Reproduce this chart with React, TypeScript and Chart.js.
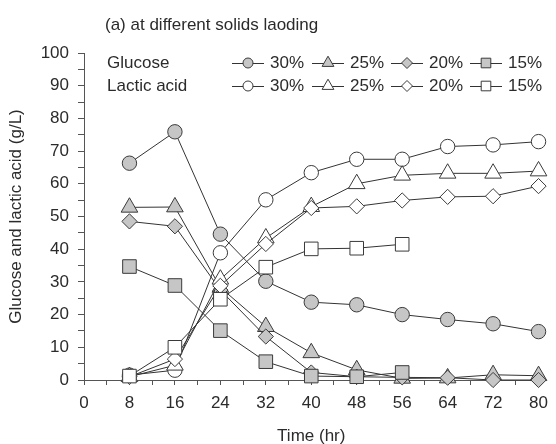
import React, { useEffect, useRef } from "react";
import { Chart, registerables } from "chart.js";

Chart.register(...registerables);

const timeHours = [8, 16, 24, 32, 40, 48, 56, 64, 72, 80];
const xTickLabels = [0, 8, 16, 24, 32, 40, 48, 56, 64, 72, 80];
const yTickLabels = [0, 10, 20, 30, 40, 50, 60, 70, 80, 90, 100];

const glucose30 = [66.3, 75.9, 44.6, 30.2, 23.8, 23.0, 20.0, 18.5, 17.2, 14.8];
const glucose25 = [52.8, 52.9, 28.3, 16.3, 8.3, 3.1, 0.5, 0.6, 1.6, 1.3];
const glucose20 = [48.5, 47.0, 27.5, 13.3, 2.3, 1.0, 0.8, 0.7, 0.0, 0.0];
const glucose15 = [34.7, 28.9, 15.1, 5.6, 1.2, 1.0, 2.3];

const lactic30 = [1.5, 3.0, 38.9, 55.1, 63.4, 67.5, 67.5, 71.4, 71.9, 72.9];
const lactic25 = [1.0, 4.5, 30.8, 43.4, 53.0, 60.0, 62.6, 63.2, 63.2, 63.9];
const lactic20 = [1.0, 6.4, 28.8, 41.6, 52.6, 53.1, 54.9, 56.0, 56.2, 59.3];
const lactic15 = [1.2, 10.0, 24.7, 34.5, 40.1, 40.3, 41.5];

const seriesLabels = ["30%", "25%", "20%", "15%"];

const FONT = "'Liberation Sans', Arial, Helvetica, sans-serif";
const TEXT = "#2b2b2b";
const LINE = "#333333";
const GRAY = "#c6c6c6";
const AXIS = "#555555";

const toPoints = (vals: number[]) => vals.map((y, i) => ({ x: timeHours[i], y }));

const styleFor = (style: string) => {
  if (style === "circle") return { pointStyle: "circle", pointRadius: 7.2 };
  if (style === "triangle") return { pointStyle: "triangle", pointRadius: 9.6 };
  if (style === "rectRot") return { pointStyle: "rectRot", pointRadius: 7.6 };
  return { pointStyle: "rect", pointRadius: 9.6 };
};

const makeSet = (label: string, vals: number[], style: string, fill: string, order: number) => ({
  label,
  data: toPoints(vals),
  borderColor: LINE,
  borderWidth: 1,
  backgroundColor: fill,
  pointBackgroundColor: fill,
  pointBorderColor: "#3a3a3a",
  pointBorderWidth: 1,
  ...styleFor(style),
  showLine: true,
  clip: false as const,
  order,
});

function drawMarker(ctx: CanvasRenderingContext2D, style: string, x: number, y: number, fill: string) {
  ctx.save();
  ctx.beginPath();
  if (style === "circle") {
    ctx.arc(x, y, 5, 0, Math.PI * 2);
  } else if (style === "triangle") {
    const r = 6.8;
    ctx.moveTo(x, y - r);
    ctx.lineTo(x + r * 0.866, y + r / 2);
    ctx.lineTo(x - r * 0.866, y + r / 2);
    ctx.closePath();
  } else if (style === "rectRot") {
    const r = 5.5;
    ctx.moveTo(x - r, y);
    ctx.lineTo(x, y - r);
    ctx.lineTo(x + r, y);
    ctx.lineTo(x, y + r);
    ctx.closePath();
  } else {
    ctx.rect(x - 4.8, y - 4.8, 9.6, 9.6);
  }
  ctx.fillStyle = fill;
  ctx.fill();
  ctx.strokeStyle = "#3a3a3a";
  ctx.lineWidth = 1;
  ctx.stroke();
  ctx.restore();
}

const textPlugin = {
  id: "textPlugin",
  afterDraw(chart: any) {
    const ctx: CanvasRenderingContext2D = chart.ctx;
    const area = chart.chartArea;
    ctx.save();
    ctx.fillStyle = TEXT;
    ctx.font = `17px ${FONT}`;
    ctx.textBaseline = "middle";
    ctx.textAlign = "left";
    ctx.fillText("(a) at different solids laoding", 105, 25);

    // legend
    ctx.fillText("Glucose", 107, 63);
    ctx.fillText("Lactic acid", 107, 86);
    const textStarts = [270, 350, 429, 508];
    const styles = ["circle", "triangle", "rectRot", "rect"];
    const rows = [
      { y: 63, fill: GRAY },
      { y: 86, fill: "#ffffff" },
    ];
    rows.forEach((row) => {
      textStarts.forEach((ts, i) => {
        ctx.beginPath();
        ctx.strokeStyle = LINE;
        ctx.lineWidth = 1;
        ctx.moveTo(ts - 38, row.y + 0.5);
        ctx.lineTo(ts - 6, row.y + 0.5);
        ctx.stroke();
        drawMarker(ctx, styles[i], ts - 22, row.y, row.fill);
        ctx.fillStyle = TEXT;
        ctx.textAlign = "left";
        ctx.fillText(seriesLabels[i], ts, row.y);
      });
    });

    // axis titles
    ctx.textAlign = "center";
    ctx.fillText("Time (hr)", (area.left + area.right) / 2, 436);
    ctx.translate(16, (area.top + area.bottom) / 2);
    ctx.rotate(-Math.PI / 2);
    ctx.fillText("Glucose and lactic acid (g/L)", 0, 0);
    ctx.restore();
  },
};

export default function App() {
  const canvasRef = useRef<HTMLCanvasElement | null>(null);

  useEffect(() => {
    document.body.style.margin = "0";
    const canvas = canvasRef.current;
    if (!canvas) return;
    const chart = new Chart(canvas, {
      type: "scatter",
      data: {
        datasets: [
          makeSet("Glucose 30%", glucose30, "circle", GRAY, 8),
          makeSet("Glucose 25%", glucose25, "triangle", GRAY, 7),
          makeSet("Glucose 20%", glucose20, "rectRot", GRAY, 6),
          makeSet("Glucose 15%", glucose15, "rect", GRAY, 5),
          makeSet("Lactic acid 30%", lactic30, "circle", "#ffffff", 4),
          makeSet("Lactic acid 25%", lactic25, "triangle", "#ffffff", 3),
          makeSet("Lactic acid 20%", lactic20, "rectRot", "#ffffff", 2),
          makeSet("Lactic acid 15%", lactic15, "rect", "#ffffff", 1),
        ] as any,
      },
      options: {
        animation: false,
        responsive: true,
        maintainAspectRatio: false,
        layout: { padding: { left: 0, right: 12, top: 53, bottom: 0 } },
        plugins: {
          legend: { display: false },
          tooltip: { enabled: false },
          title: { display: false },
        },
        scales: {
          x: {
            type: "linear",
            min: xTickLabels[0],
            max: xTickLabels[xTickLabels.length - 1],
            afterFit: (scale: any) => {
              scale.height = 64;
            },
            ticks: {
              stepSize: 4,
              autoSkip: false,
              maxRotation: 0,
              padding: 8,
              color: TEXT,
              font: { family: FONT, size: 17 },
              callback: (v: any) => (xTickLabels.includes(Number(v)) ? String(v) : ""),
            },
            grid: { drawOnChartArea: false, drawTicks: true, tickLength: 5, color: AXIS },
            border: { display: true, color: AXIS, width: 1 },
          },
          y: {
            type: "linear",
            min: yTickLabels[0],
            max: yTickLabels[yTickLabels.length - 1],
            afterFit: (scale: any) => {
              scale.width = 84;
            },
            ticks: {
              stepSize: 5,
              autoSkip: false,
              padding: 9,
              color: TEXT,
              font: { family: FONT, size: 17 },
              callback: (v: any) => (yTickLabels.includes(Number(v)) ? String(v) : ""),
            },
            grid: { drawOnChartArea: false, drawTicks: true, tickLength: 6, color: AXIS },
            border: { display: true, color: AXIS, width: 1 },
          },
        },
      },
      plugins: [textPlugin],
    });
    return () => chart.destroy();
  }, []);

  return (
    <div style={{ position: "absolute", left: 0, top: 0, width: 556, height: 444 }}>
      <canvas ref={canvasRef} />
    </div>
  );
}
